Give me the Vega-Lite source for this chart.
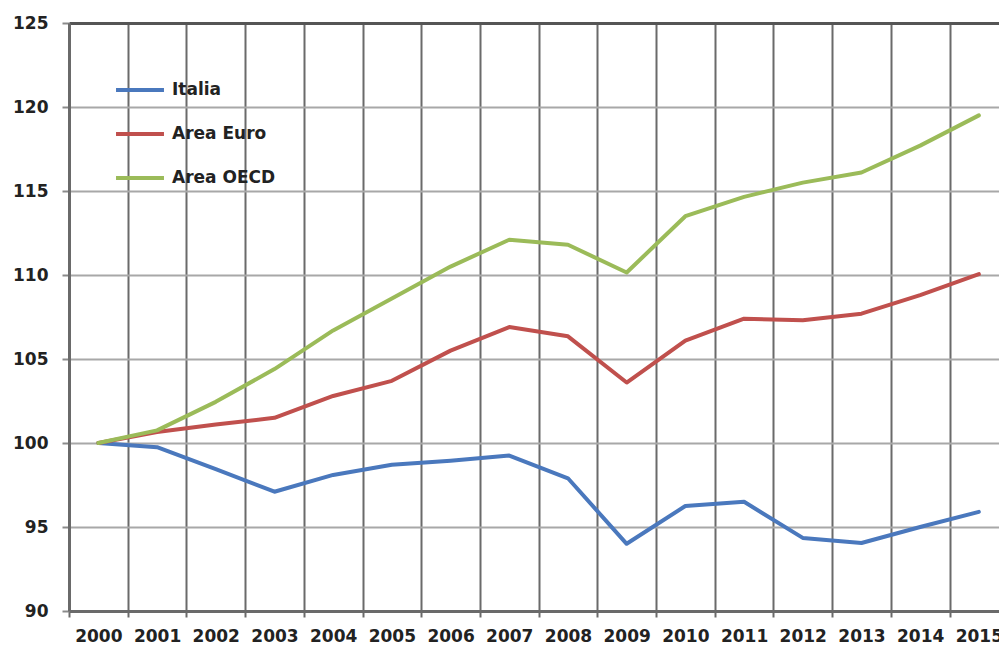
{
  "$schema": "https://vega.github.io/schema/vega-lite/v6.json",
  "width": 930,
  "height": 588,
  "autosize": "none",
  "padding": {"left": 69, "top": 23, "right": 0, "bottom": 42},
  "background": "white",
  "config": {"view": {"stroke": null}},
  "data": {
    "values": [
      {"year": 2000, "serie": "Italia", "v": 100.0},
      {"year": 2001, "serie": "Italia", "v": 99.75},
      {"year": 2002, "serie": "Italia", "v": 98.45},
      {"year": 2003, "serie": "Italia", "v": 97.1},
      {"year": 2004, "serie": "Italia", "v": 98.1},
      {"year": 2005, "serie": "Italia", "v": 98.7},
      {"year": 2006, "serie": "Italia", "v": 98.95},
      {"year": 2007, "serie": "Italia", "v": 99.25},
      {"year": 2008, "serie": "Italia", "v": 97.9},
      {"year": 2009, "serie": "Italia", "v": 94.0},
      {"year": 2010, "serie": "Italia", "v": 96.25},
      {"year": 2011, "serie": "Italia", "v": 96.5},
      {"year": 2012, "serie": "Italia", "v": 94.35},
      {"year": 2013, "serie": "Italia", "v": 94.05},
      {"year": 2014, "serie": "Italia", "v": 95.0},
      {"year": 2015, "serie": "Italia", "v": 95.9},
      {"year": 2000, "serie": "Area Euro", "v": 100.0},
      {"year": 2001, "serie": "Area Euro", "v": 100.65},
      {"year": 2002, "serie": "Area Euro", "v": 101.1},
      {"year": 2003, "serie": "Area Euro", "v": 101.5},
      {"year": 2004, "serie": "Area Euro", "v": 102.8},
      {"year": 2005, "serie": "Area Euro", "v": 103.7},
      {"year": 2006, "serie": "Area Euro", "v": 105.5},
      {"year": 2007, "serie": "Area Euro", "v": 106.9},
      {"year": 2008, "serie": "Area Euro", "v": 106.35},
      {"year": 2009, "serie": "Area Euro", "v": 103.6},
      {"year": 2010, "serie": "Area Euro", "v": 106.1},
      {"year": 2011, "serie": "Area Euro", "v": 107.4},
      {"year": 2012, "serie": "Area Euro", "v": 107.3},
      {"year": 2013, "serie": "Area Euro", "v": 107.7},
      {"year": 2014, "serie": "Area Euro", "v": 108.8},
      {"year": 2015, "serie": "Area Euro", "v": 110.05},
      {"year": 2000, "serie": "Area OECD", "v": 100.0},
      {"year": 2001, "serie": "Area OECD", "v": 100.75},
      {"year": 2002, "serie": "Area OECD", "v": 102.45},
      {"year": 2003, "serie": "Area OECD", "v": 104.4},
      {"year": 2004, "serie": "Area OECD", "v": 106.7},
      {"year": 2005, "serie": "Area OECD", "v": 108.6},
      {"year": 2006, "serie": "Area OECD", "v": 110.5},
      {"year": 2007, "serie": "Area OECD", "v": 112.1},
      {"year": 2008, "serie": "Area OECD", "v": 111.8},
      {"year": 2009, "serie": "Area OECD", "v": 110.15},
      {"year": 2010, "serie": "Area OECD", "v": 113.5},
      {"year": 2011, "serie": "Area OECD", "v": 114.65},
      {"year": 2012, "serie": "Area OECD", "v": 115.5},
      {"year": 2013, "serie": "Area OECD", "v": 116.1},
      {"year": 2014, "serie": "Area OECD", "v": 117.7},
      {"year": 2015, "serie": "Area OECD", "v": 119.5}
    ]
  },
  "mark": {"type": "line", "strokeWidth": 4, "strokeJoin": "round", "strokeCap": "round"},
  "encoding": {
    "x": {
      "field": "year",
      "type": "quantitative",
      "scale": {"domain": [1999.5, 2015.343], "nice": false, "zero": false},
      "axis": {
        "title": null,
        "values": [1999.5, 2000, 2000.5, 2001, 2001.5, 2002, 2002.5, 2003, 2003.5, 2004, 2004.5, 2005, 2005.5, 2006, 2006.5, 2007, 2007.5, 2008, 2008.5, 2009, 2009.5, 2010, 2010.5, 2011, 2011.5, 2012, 2012.5, 2013, 2013.5, 2014, 2014.5, 2015],
        "labelExpr": "datum.value % 1 === 0 ? '' + datum.value : ''",
        "labelOverlap": false,
        "labelFlush": false,
        "labelBound": false,
        "labelFont": "DejaVu Sans",
        "labelFontWeight": "bold",
        "labelFontSize": 17,
        "labelColor": "#222222",
        "labelPadding": 11,
        "grid": true,
        "gridColor": "#6a6a6a",
        "gridWidth": 2,
        "gridOpacity": {"condition": {"test": "datum.value % 1 !== 0", "value": 1}, "value": 0},
        "ticks": true,
        "tickSize": 6,
        "tickWidth": 2,
        "tickColor": "#6a6a6a",
        "tickOpacity": {"condition": {"test": "datum.value % 1 !== 0", "value": 1}, "value": 0},
        "domainColor": "#6a6a6a",
        "domainWidth": 3
      }
    },
    "y": {
      "field": "v",
      "type": "quantitative",
      "scale": {"domain": [90, 125], "nice": false, "zero": false},
      "axis": {
        "title": null,
        "values": [90, 95, 100, 105, 110, 115, 120, 125],
        "labelFont": "DejaVu Sans",
        "labelFontWeight": "bold",
        "labelFontSize": 17,
        "labelColor": "#222222",
        "labelPadding": 14,
        "grid": true,
        "gridColor": {"condition": {"test": "datum.value === 125", "value": "#555555"}, "value": "#a8a8a8"},
        "gridWidth": {"condition": {"test": "datum.value === 125", "value": 3}, "value": 2},
        "tickSize": 7,
        "tickWidth": 2,
        "tickColor": "#8a8a8a",
        "domainColor": "#6a6a6a",
        "domainWidth": 3
      }
    },
    "color": {
      "field": "serie",
      "type": "nominal",
      "scale": {"domain": ["Italia", "Area Euro", "Area OECD"], "range": ["#4a78bd", "#c0504d", "#9bbb59"]},
      "legend": {
        "title": null,
        "orient": "none",
        "legendX": 45,
        "legendY": 41,
        "symbolType": "stroke",
        "symbolSize": 2300,
        "symbolStrokeWidth": 4,
        "labelFont": "DejaVu Sans",
        "labelFontWeight": "bold",
        "labelFontSize": 17,
        "labelColor": "#222222",
        "labelOffset": 6,
        "rowPadding": 10,
        "padding": 0
      }
    }
  }
}
